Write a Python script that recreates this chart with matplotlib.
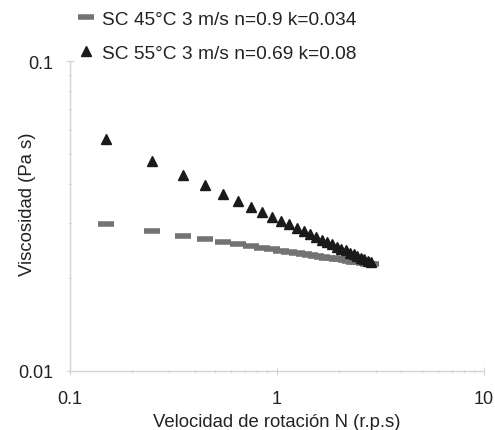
import numpy as np
import matplotlib
matplotlib.use('Agg')
import matplotlib.pyplot as plt
from matplotlib.ticker import LogLocator, NullFormatter, FixedLocator, FixedFormatter

plt.rcParams['font.family'] = ['Liberation Sans', 'DejaVu Sans']

# Velocidad de rotacion N (r.p.s)
speed = [0.15, 0.25, 0.35, 0.45, 0.55, 0.65, 0.75, 0.85, 0.95, 1.05,
         1.15, 1.25, 1.35, 1.45, 1.55, 1.65, 1.75, 1.85, 1.95, 2.05,
         2.15, 2.25, 2.35, 2.45, 2.55, 2.65, 2.75, 2.85]

# Viscosidad (Pa s)
visc_45 = [0.0297, 0.0282, 0.0273, 0.0266, 0.0261, 0.0256, 0.0253, 0.0250,
           0.0247, 0.0244, 0.0242, 0.0240, 0.0238, 0.0237, 0.0235, 0.0234,
           0.0232, 0.0231, 0.0230, 0.0229, 0.0228, 0.0226, 0.0225, 0.0224,
           0.0224, 0.0223, 0.0222, 0.0221]
visc_55 = [0.0560, 0.0477, 0.0429, 0.0397, 0.0373, 0.0354, 0.0339, 0.0326,
           0.0315, 0.0305, 0.0297, 0.0289, 0.0282, 0.0276, 0.0271, 0.0265,
           0.0261, 0.0256, 0.0252, 0.0248, 0.0245, 0.0241, 0.0238, 0.0235,
           0.0232, 0.0229, 0.0227, 0.0224]

label_45 = 'SC 45°C 3 m/s n=0.9 k=0.034'
label_55 = 'SC 55°C 3 m/s n=0.69 k=0.08'

fig = plt.figure(figsize=(4.95, 4.31), dpi=100)
ax = fig.add_axes([0.1414, 0.137, 0.836, 0.719])

ax.plot(speed, visc_45, linestyle='none', marker='_', markersize=12,
        markeredgewidth=4, color='#737373', label=label_45)
ax.plot(speed, visc_55, linestyle='none', marker='^', markersize=7,
        color='#1a1a1a', label=label_55)

ax.set_xscale('log')
ax.set_yscale('log')
ax.set_xlim(0.1, 10)
ax.set_ylim(0.01, 0.1)

ax.xaxis.set_major_locator(FixedLocator([0.1, 1, 10]))
ax.xaxis.set_major_formatter(FixedFormatter(['0.1', '1', '10']))
ax.yaxis.set_major_locator(FixedLocator([0.01, 0.1]))
ax.yaxis.set_major_formatter(FixedFormatter(['0.01', '0.1']))
ax.xaxis.set_minor_locator(LogLocator(base=10, subs=np.arange(2, 10)))
ax.yaxis.set_minor_locator(LogLocator(base=10, subs=np.arange(2, 10)))
ax.xaxis.set_minor_formatter(NullFormatter())
ax.yaxis.set_minor_formatter(NullFormatter())

for side in ['top', 'right']:
    ax.spines[side].set_visible(False)
for side in ['left', 'bottom']:
    ax.spines[side].set_color('#d4d4d4')
    ax.spines[side].set_linewidth(1.0)

ax.tick_params(which='major', direction='inout', length=6, color='#d4d4d4',
               labelsize=13, labelcolor='#222222')
ax.tick_params(which='minor', direction='inout', length=3, color='#dddddd')
ax.tick_params(axis='y', pad=9)
ax.tick_params(axis='x', pad=11)

ax.set_xlabel('Velocidad de rotación N (r.p.s)', fontsize=13.3,
              color='#222222', labelpad=4)
ax.set_ylabel('Viscosidad (Pa s)', fontsize=13.3, color='#222222')
ax.yaxis.set_label_coords(-0.082, 0.54)

fig.legend(loc='upper left', bbox_to_anchor=(0.136, 1.0), frameon=False,
           fontsize=13.8, handlelength=0.8, handletextpad=0.4,
           labelspacing=0.85, borderaxespad=0.2, labelcolor='#222222')

fig.savefig('out.png', dpi=100)
